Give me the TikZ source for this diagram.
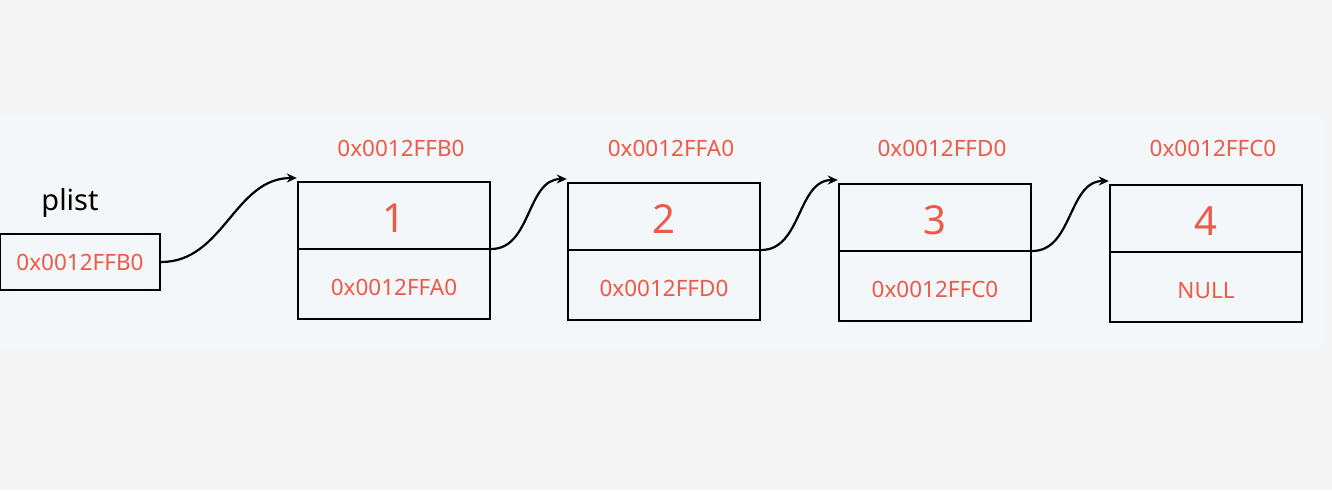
\documentclass[tikz,border=0pt]{standalone}
\usepackage{fontspec}
\setmainfont{Noto Sans}
\usetikzlibrary{arrows.meta}
\definecolor{bgout}{HTML}{F5F5F5}
\definecolor{bgband}{HTML}{F4F7F9}
\definecolor{addr}{HTML}{EE5A48}
\tikzset{
  cell/.style={draw=black, line width=2.4pt, minimum width=192pt, minimum height=137pt, inner sep=0pt},
  addrtxt/.style={text=addr, font=\fontsize{22.5}{24}\selectfont},
  valtxt/.style={text=addr, font=\fontsize{40}{44}\selectfont},
  link/.style={line width=2.2pt, -{Stealth[length=10pt,width=9pt]}},
}
\begin{document}
\begin{tikzpicture}[x=1pt,y=-1pt]
\fill[bgout] (0,0) rectangle (1332,490);
\fill[bgband] (0,115) rectangle (1325,348);
\useasboundingbox (0,0) rectangle (1332,490);

% plist
\node[text=black, font=\fontsize{29}{32}\selectfont] (plistlbl) at (70,203) {plist};
\node[draw=black, line width=2.4pt, minimum width=160pt, minimum height=56pt, inner sep=0pt, addrtxt] (plist) at (80,262) {0x0012FFB0};

% nodes
\foreach \i/\x/\y/\lab/\v/\nx in {1/394/181/0x0012FFB0/1/0x0012FFA0, 2/664/182/0x0012FFA0/2/0x0012FFD0, 3/935/183/0x0012FFD0/3/0x0012FFC0, 4/1206/184/0x0012FFC0/4/NULL}{
  \node[cell, anchor=north] (n\i) at (\x,\y) {};
  \coordinate (l\i) at ([yshift=-68pt]n\i.north west);
  \coordinate (r\i) at ([yshift=-68pt]n\i.north east);
  \draw[line width=2.4pt] (l\i) -- (r\i);
  \node[valtxt] (v\i) at ([yshift=-37pt]n\i.north) {\v};
  \node[addrtxt] (p\i) at ([yshift=33pt]n\i.south) {\nx};
  \node[addrtxt] (a\i) at (\x+7,148) {\lab};
}

\draw[link] (plist.east) to[out=0, in=180] ([yshift=3pt]n1.north west);
\draw[link] (r1) to[out=0, in=180] ([yshift=3pt]n2.north west);
\draw[link] (r2) to[out=0, in=180] ([yshift=3pt]n3.north west);
\draw[link] (r3) to[out=0, in=180] ([yshift=3pt]n4.north west);
\end{tikzpicture}
\end{document}
